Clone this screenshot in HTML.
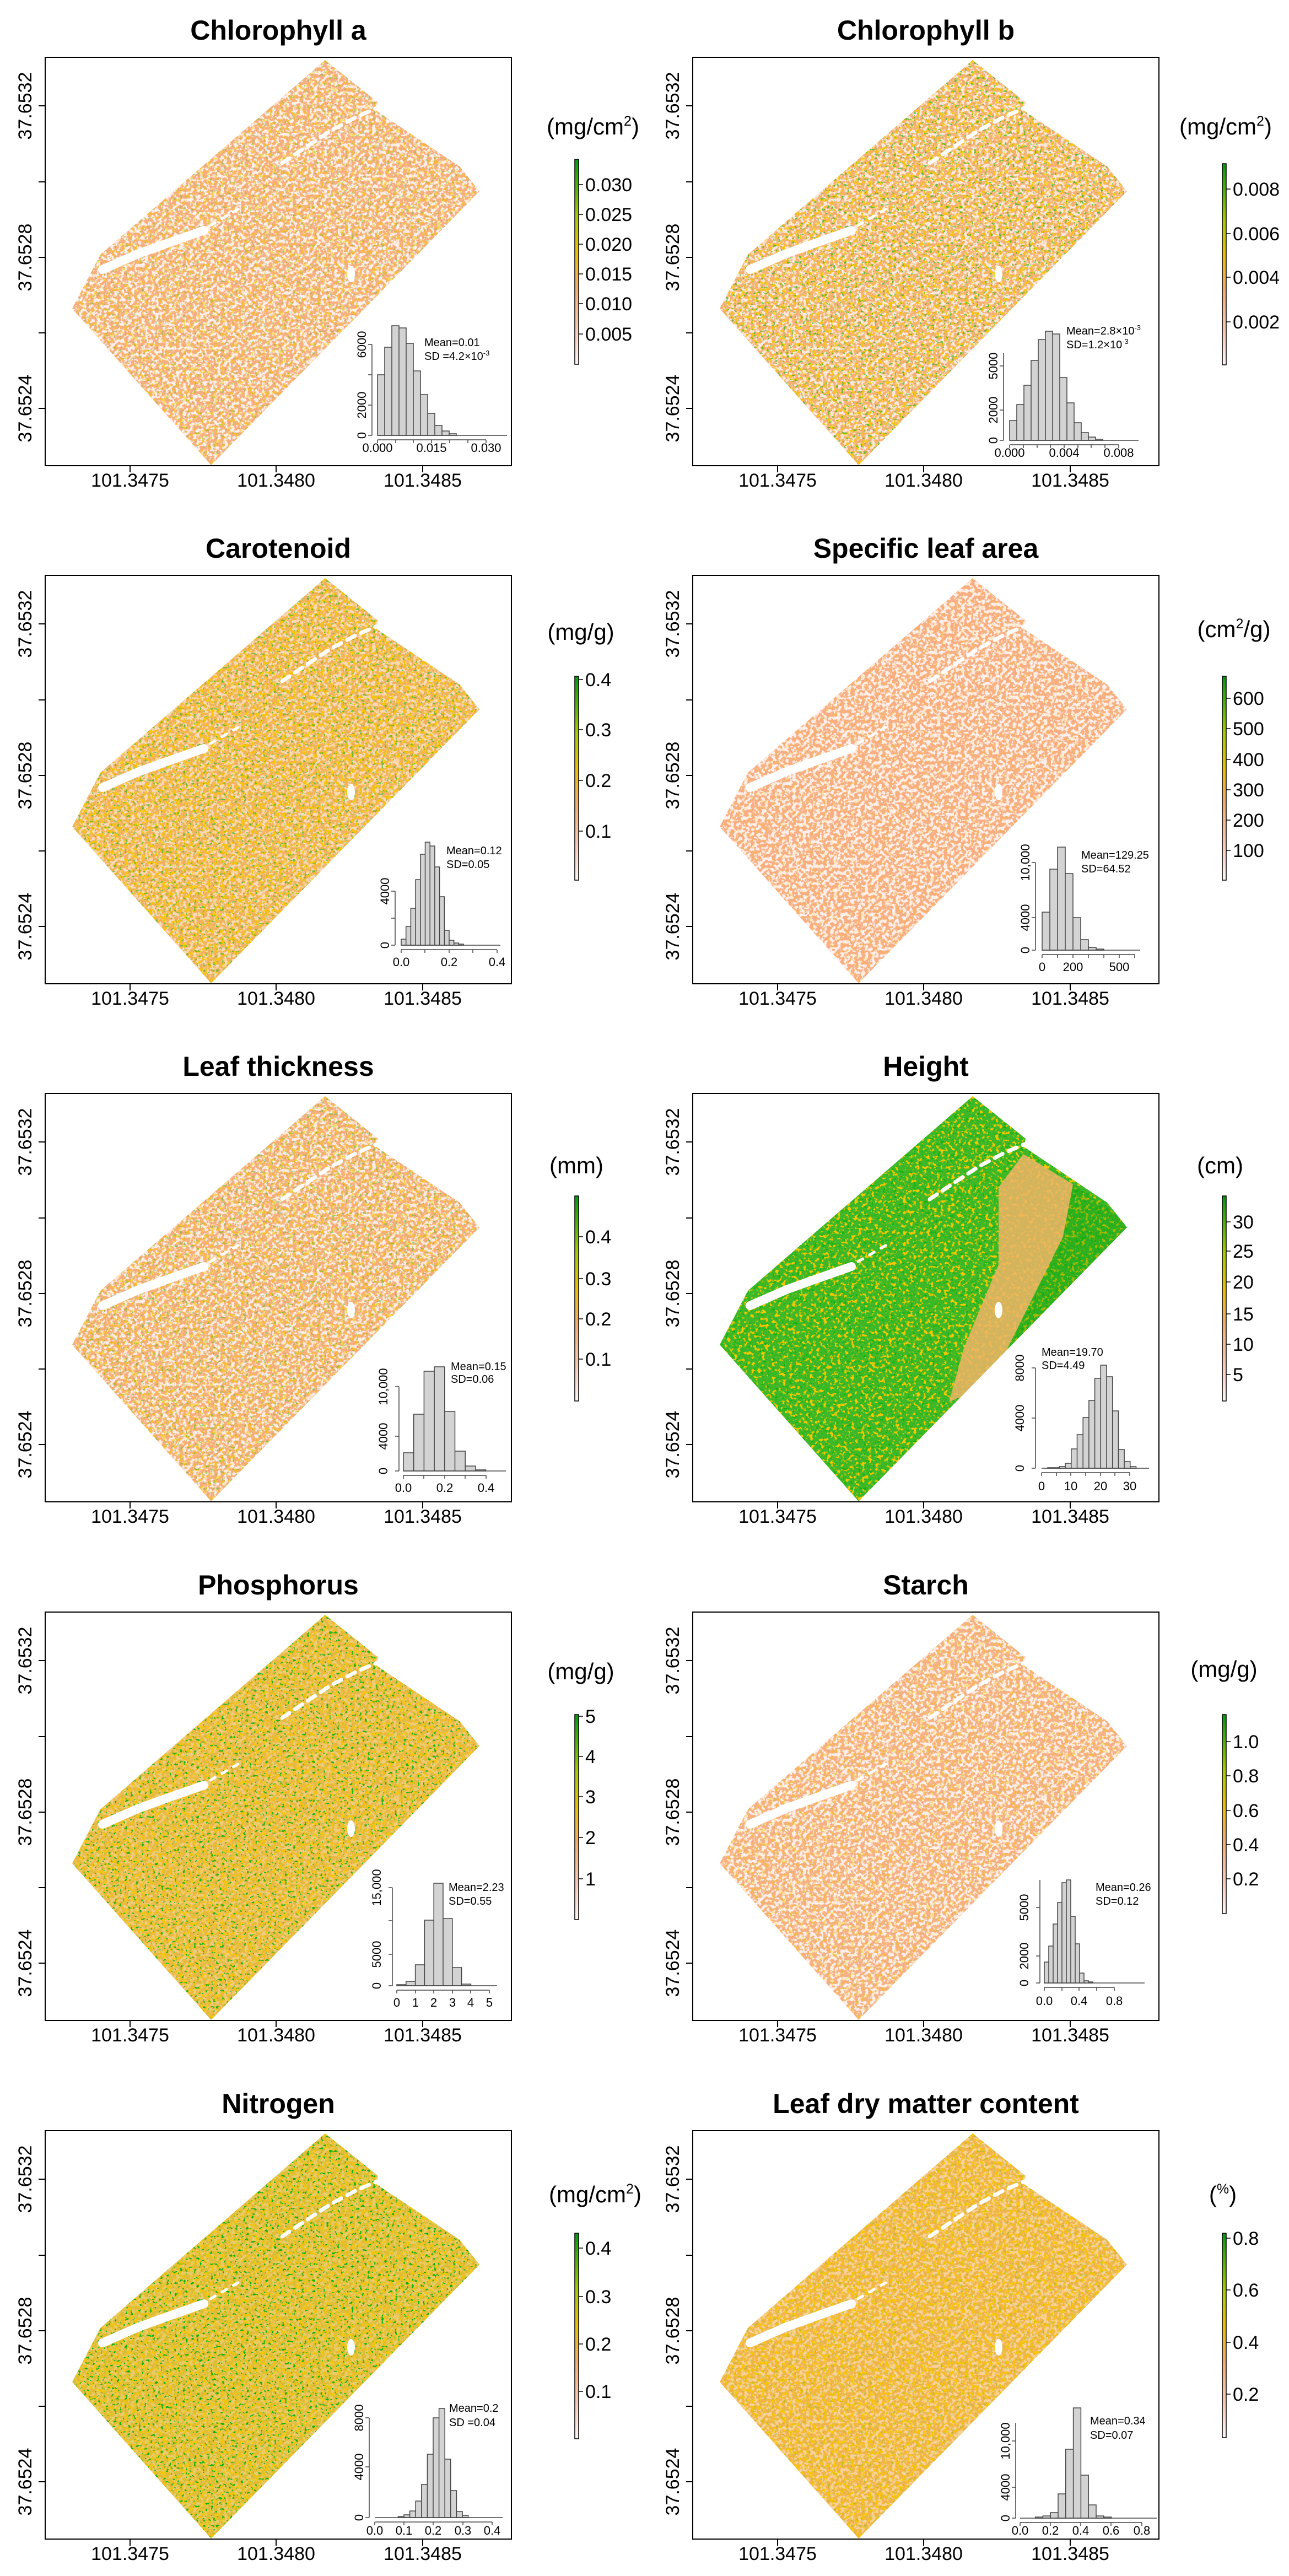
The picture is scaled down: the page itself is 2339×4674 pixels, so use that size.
<!DOCTYPE html>
<html><head><meta charset="utf-8"><style>
html,body{margin:0;padding:0;background:#fff}
svg{display:block}
text{font-family:"Liberation Sans",Arial,sans-serif;fill:#000}
.t{font-size:50px;font-weight:bold;text-anchor:middle}
.ax{font-size:34px;text-anchor:middle}
.cl{font-size:34px}
.u{font-size:42px;text-anchor:middle}
.hl{font-size:22px;text-anchor:middle}
.hm{font-size:20px}
.bars{fill:#d3d3d3;stroke:#444;stroke-width:1.5}
.hx{stroke:#444;stroke-width:1.5;fill:none}
</style></head><body>
<svg width="2339" height="4674" viewBox="0 0 2339 4674" xmlns="http://www.w3.org/2000/svg">
<defs>
<polygon id="shp" points="508,5 604,82 601,97 752,198 788,243 301,740 49,456 100,358"/>
<clipPath id="cp"><use href="#shp"/></clipPath>
<g id="ch" fill="#fff" stroke="#fff" stroke-linecap="round" stroke-linejoin="round">
<path d="M104,385 L170,356 L220,338 L288,314" fill="none" stroke-width="16"/>
<path d="M300,305 L360,270" fill="none" stroke-width="5" stroke-dasharray="10 14"/>
<path d="M430,192 L470,165 L520,132 L565,108 L602,92" fill="none" stroke-width="7" stroke-dasharray="16 12"/>
<ellipse cx="555" cy="393" rx="7" ry="15" stroke="none"/>
</g>
<filter id="fw" filterUnits="userSpaceOnUse" x="0" y="0" width="850" height="745" color-interpolation-filters="sRGB">
<feTurbulence type="fractalNoise" baseFrequency="0.16" numOctaves="2" seed="2"/>
<feColorMatrix type="matrix" values="0 0 0 0 1 0 0 0 0 0.94 0 0 0 0 0.93 9 0 0 0 -4.2"/>
</filter>
<filter id="fy" filterUnits="userSpaceOnUse" x="0" y="0" width="850" height="745" color-interpolation-filters="sRGB">
<feTurbulence type="fractalNoise" baseFrequency="0.16" numOctaves="2" seed="7"/>
<feColorMatrix type="matrix" values="0 0 0 0 0.97 0 0 0 0 0.78 0 0 0 0 0.0 9 0 0 0 -4.9"/>
</filter>
<filter id="fg" filterUnits="userSpaceOnUse" x="0" y="0" width="850" height="745" color-interpolation-filters="sRGB">
<feTurbulence type="fractalNoise" baseFrequency="0.2" numOctaves="2" seed="11"/>
<feColorMatrix type="matrix" values="0 0 0 0 0.05 0 0 0 0 0.7 0 0 0 0 0.05 12 0 0 0 -7.6"/>
</filter>
<linearGradient id="cb" x1="0" y1="1" x2="0" y2="0">
<stop offset="0" stop-color="#fdf6f6"/><stop offset="0.18" stop-color="#f8c8b6"/>
<stop offset="0.38" stop-color="#f4ae6a"/><stop offset="0.55" stop-color="#ecc000"/>
<stop offset="0.72" stop-color="#a8cc00"/><stop offset="1" stop-color="#009a10"/>
</linearGradient>
<g id="frame">
<rect x="0" y="0" width="846" height="741" fill="none" stroke="#000" stroke-width="2"/>
<path d="M0,88 h-12 M0,226 h-12 M0,363 h-12 M0,500 h-12 M0,637 h-12 M154,741 v12 M419,741 v12 M685,741 v12" stroke="#000" stroke-width="2"/>
<text class="ax" x="154" y="779">101.3475</text>
<text class="ax" x="419" y="779">101.3480</text>
<text class="ax" x="685" y="779">101.3485</text>
<text class="ax" transform="translate(-25,88) rotate(-90)">37.6532</text>
<text class="ax" transform="translate(-25,363) rotate(-90)">37.6528</text>
<text class="ax" transform="translate(-25,637) rotate(-90)">37.6524</text>
</g>
</defs>

<!-- Panel 1: Chlorophyll a -->
<g transform="translate(82,104)">
<g clip-path="url(#cp)"><rect width="850" height="745" fill="#f8ae80"/><rect width="850" height="745" filter="url(#fw)" opacity="1"/><rect width="850" height="745" filter="url(#fy)" opacity="0.55"/><rect width="850" height="745" filter="url(#fg)" opacity="0.25"/></g>
<use href="#ch"/><use href="#frame"/>
<text class="t" x="423" y="-32">Chlorophyll a</text>
<text class="u" x="994" y="140">(mg/cm<tspan font-size="25" dy="-16">2</tspan><tspan dy="16">)</tspan></text>
<rect x="961" y="185" width="7" height="372" fill="url(#cb)" stroke="#000" stroke-width="1.5"/>
<path d="M968,231h8M968,285h8M968,339h8M968,393h8M968,447h8M968,502h8" stroke="#000" stroke-width="1.5"/>
<text class="cl" x="980" y="243">0.030</text><text class="cl" x="980" y="297">0.025</text><text class="cl" x="980" y="351">0.020</text><text class="cl" x="980" y="405">0.015</text><text class="cl" x="980" y="459">0.010</text><text class="cl" x="980" y="514">0.005</text>
<path class="bars" d="M603,686v-110h13v110zM616,686v-160h13v160zM629,686v-199h13v199zM642,686v-195h13v195zM655,686v-167h13v167zM668,686v-117h13v117zM681,686v-74h13v74zM694,686v-40h13v40zM707,686v-18h13v18zM720,686v-8h13v8zM733,686v-3h13v3z"/>
<path class="hx" d="M603,686H838M593,686V521M593,686h-7M593,631h-7M593,576h-7M593,521h-7M603,694H800M603,694v6M636,694v6M668,694v6M701,694v6M734,694v6M767,694v6M800,694v6"/>
<text class="hl" transform="translate(582,686) rotate(-90)">0</text><text class="hl" transform="translate(582,631) rotate(-90)">2000</text><text class="hl" transform="translate(582,521) rotate(-90)">6000</text>
<text class="hl" x="603" y="716">0.000</text><text class="hl" x="701" y="716">0.015</text><text class="hl" x="800" y="716">0.030</text>
<text class="hm" x="688" y="524">Mean=0.01</text><text class="hm" x="688" y="549">SD =4.2×10<tspan font-size="13" dy="-8">-3</tspan></text>
</g>

<!-- Panel 2: Chlorophyll b -->
<g transform="translate(1257,104)">
<g clip-path="url(#cp)"><rect width="850" height="745" fill="#f6b074"/><rect width="850" height="745" filter="url(#fw)" opacity="0.9"/><rect width="850" height="745" filter="url(#fy)" opacity="0.85"/><rect width="850" height="745" filter="url(#fg)" opacity="0.6"/></g>
<use href="#ch"/><use href="#frame"/>
<text class="t" x="423" y="-32">Chlorophyll b</text>
<text class="u" x="967" y="140">(mg/cm<tspan font-size="25" dy="-16">2</tspan><tspan dy="16">)</tspan></text>
<rect x="961" y="193" width="7" height="365" fill="url(#cb)" stroke="#000" stroke-width="1.5"/>
<path d="M968,239h8M968,320h8M968,399h8M968,480h8" stroke="#000" stroke-width="1.5"/>
<text class="cl" x="980" y="251">0.008</text><text class="cl" x="980" y="332">0.006</text><text class="cl" x="980" y="411">0.004</text><text class="cl" x="980" y="492">0.002</text>
<path class="bars" d="M575,695v-36h13v36zM588,695v-65h13v65zM601,695v-100h13v100zM614,695v-145h13v145zM627,695v-183h13v183zM640,695v-198h13v198zM653,695v-193h13v193zM666,695v-114h13v114zM679,695v-68h13v68zM692,695v-32h13v32zM705,695v-14h13v14zM718,695v-6h13v6zM731,695v-2h13v2z"/>
<path class="hx" d="M575,695H809M564,695V536M564,695h-7M564,640h-7M564,560h-7M575,703H773M575,703v6M600,703v6M625,703v6M649,703v6M674,703v6M699,703v6M723,703v6M748,703v6M773,703v6"/>
<text class="hl" transform="translate(553,695) rotate(-90)">0</text><text class="hl" transform="translate(553,640) rotate(-90)">2000</text><text class="hl" transform="translate(553,560) rotate(-90)">5000</text>
<text class="hl" x="575" y="725">0.000</text><text class="hl" x="674" y="725">0.004</text><text class="hl" x="773" y="725">0.008</text>
<text class="hm" x="678" y="503">Mean=2.8×10<tspan font-size="13" dy="-8">-3</tspan></text><text class="hm" x="678" y="528">SD=1.2×10<tspan font-size="13" dy="-8">-3</tspan></text>
</g>

<!-- Panel 3: Carotenoid -->
<g transform="translate(82,1044)">
<g clip-path="url(#cp)"><rect width="850" height="745" fill="#f2b25c"/><rect width="850" height="745" filter="url(#fw)" opacity="0.65"/><rect width="850" height="745" filter="url(#fy)" opacity="0.95"/><rect width="850" height="745" filter="url(#fg)" opacity="0.55"/></g>
<use href="#ch"/><use href="#frame"/>
<text class="t" x="423" y="-32">Carotenoid</text>
<text class="u" x="972" y="117">(mg/g)</text>
<rect x="961" y="183" width="7" height="370" fill="url(#cb)" stroke="#000" stroke-width="1.5"/>
<path d="M968,189h8M968,280h8M968,372h8M968,464h8" stroke="#000" stroke-width="1.5"/>
<text class="cl" x="980" y="201">0.4</text><text class="cl" x="980" y="292">0.3</text><text class="cl" x="980" y="384">0.2</text><text class="cl" x="980" y="476">0.1</text>
<path class="bars" d="M646,671v-11h8.7v11zM654.7,671v-34h8.7v34zM663.4,671v-67h8.7v67zM672.1,671v-119h8.7v119zM680.8,671v-165h8.7v165zM689.5,671v-187h8.7v187zM698.2,671v-180h8.7v180zM706.9,671v-142h8.7v142zM715.6,671v-88h8.7v88zM724.3,671v-27h8.7v27zM733,671v-9h8.7v9zM741.7,671v-4h8.7v4zM750.4,671v-2h8.7v2z"/>
<path class="hx" d="M646,671H826M635,671V573M635,671h-7M635,622h-7M635,573h-7M646,679H820M646,679v6M689,679v6M733,679v6M776,679v6M820,679v6"/>
<text class="hl" transform="translate(624,671) rotate(-90)">0</text><text class="hl" transform="translate(624,573) rotate(-90)">4000</text>
<text class="hl" x="646" y="709">0.0</text><text class="hl" x="733" y="709">0.2</text><text class="hl" x="820" y="709">0.4</text>
<text class="hm" x="728" y="506">Mean=0.12</text><text class="hm" x="728" y="531">SD=0.05</text>
</g>

<!-- Panel 4: Specific leaf area -->
<g transform="translate(1257,1044)">
<g clip-path="url(#cp)"><rect width="850" height="745" fill="#f8ae82"/><rect width="850" height="745" filter="url(#fw)" opacity="1"/><rect width="850" height="745" filter="url(#fy)" opacity="0.2"/></g>
<use href="#ch"/><use href="#frame"/>
<text class="t" x="423" y="-32">Specific leaf area</text>
<text class="u" x="982" y="112">(cm<tspan font-size="25" dy="-16">2</tspan><tspan dy="16">/g)</tspan></text>
<rect x="961" y="183" width="7" height="370" fill="url(#cb)" stroke="#000" stroke-width="1.5"/>
<path d="M968,223h8M968,278h8M968,334h8M968,389h8M968,444h8M968,499h8" stroke="#000" stroke-width="1.5"/>
<text class="cl" x="980" y="235">600</text><text class="cl" x="980" y="290">500</text><text class="cl" x="980" y="346">400</text><text class="cl" x="980" y="401">300</text><text class="cl" x="980" y="456">200</text><text class="cl" x="980" y="511">100</text>
<path class="bars" d="M634,680v-69h14v69zM648,680v-147h14v147zM662,680v-187h14v187zM676,680v-139h14v139zM690,680v-59h14v59zM704,680v-19h14v19zM718,680v-5h14v5zM732,680v-2h14v2z"/>
<path class="hx" d="M634,680H812M622,680V521M622,680h-7M622,621h-7M622,521h-7M634,688H802M634,688v6M662,688v6M690,688v6M718,688v6M746,688v6M774,688v6M802,688v6"/>
<text class="hl" transform="translate(611,680) rotate(-90)">0</text><text class="hl" transform="translate(611,621) rotate(-90)">4000</text><text class="hl" transform="translate(611,521) rotate(-90)">10,000</text>
<text class="hl" x="634" y="718">0</text><text class="hl" x="690" y="718">200</text><text class="hl" x="774" y="718">500</text>
<text class="hm" x="705" y="514">Mean=129.25</text><text class="hm" x="705" y="539">SD=64.52</text>
</g>

<!-- Panel 5: Leaf thickness -->
<g transform="translate(82,1984)">
<g clip-path="url(#cp)"><rect width="850" height="745" fill="#f7ae7a"/><rect width="850" height="745" filter="url(#fw)" opacity="0.95"/><rect width="850" height="745" filter="url(#fy)" opacity="0.6"/><rect width="850" height="745" filter="url(#fg)" opacity="0.35"/></g>
<use href="#ch"/><use href="#frame"/>
<text class="t" x="423" y="-32">Leaf thickness</text>
<text class="u" x="964" y="145">(mm)</text>
<rect x="961" y="186" width="7" height="372" fill="url(#cb)" stroke="#000" stroke-width="1.5"/>
<path d="M968,260h8M968,336h8M968,409h8M968,482h8" stroke="#000" stroke-width="1.5"/>
<text class="cl" x="980" y="272">0.4</text><text class="cl" x="980" y="348">0.3</text><text class="cl" x="980" y="421">0.2</text><text class="cl" x="980" y="494">0.1</text>
<path class="bars" d="M650,685v-33h18.7v33zM668.7,685v-103h18.7v103zM687.4,685v-181h18.7v181zM706.1,685v-189h18.7v189zM724.8,685v-108h18.7v108zM743.5,685v-36h18.7v36zM762.2,685v-9h18.7v9zM780.9,685v-2h18.7v2z"/>
<path class="hx" d="M650,685H836M642,685V532M642,685h-7M642,622h-7M642,532h-7M650,693H800M650,693v6M687,693v6M725,693v6M762,693v6M800,693v6"/>
<text class="hl" transform="translate(621,685) rotate(-90)">0</text><text class="hl" transform="translate(621,622) rotate(-90)">4000</text><text class="hl" transform="translate(621,532) rotate(-90)">10,000</text>
<text class="hl" x="650" y="723">0.0</text><text class="hl" x="725" y="723">0.2</text><text class="hl" x="800" y="723">0.4</text>
<text class="hm" x="736" y="502">Mean=0.15</text><text class="hm" x="736" y="525">SD=0.06</text>
</g>

<!-- Panel 6: Height -->
<g transform="translate(1257,1984)">
<g clip-path="url(#cp)"><rect width="850" height="745" fill="#3cb828"/><rect width="850" height="745" filter="url(#fy)" opacity="1"/><rect width="850" height="745" filter="url(#fg)" opacity="0.9"/>
<polygon points="690,165 800,240 560,540 540,530 672,260" fill="#10a010" opacity="0.35"/>
<polygon points="600,110 690,165 672,260 540,525 465,560 492,462 555,310 555,170" fill="#eeb466" opacity="0.85"/>
</g>
<use href="#ch"/><use href="#frame"/>
<text class="t" x="423" y="-32">Height</text>
<text class="u" x="957" y="145">(cm)</text>
<rect x="961" y="186" width="7" height="372" fill="url(#cb)" stroke="#000" stroke-width="1.5"/>
<path d="M968,233h8M968,286h8M968,342h8M968,400h8M968,455h8M968,510h8" stroke="#000" stroke-width="1.5"/>
<text class="cl" x="980" y="245">30</text><text class="cl" x="980" y="298">25</text><text class="cl" x="980" y="354">20</text><text class="cl" x="980" y="412">15</text><text class="cl" x="980" y="467">10</text><text class="cl" x="980" y="522">5</text>
<path class="bars" d="M644,680v-1h10.7v1zM654.7,680v-1h10.7v1zM665.4,680v-3h10.7v3zM676.1,680v-9h10.7v9zM686.8,680v-35h10.7v35zM697.5,680v-61h10.7v61zM708.2,680v-92h10.7v92zM718.9,680v-123h10.7v123zM729.6,680v-163h10.7v163zM740.3,680v-187h10.7v187zM751,680v-166h10.7v166zM761.7,680v-104h10.7v104zM772.4,680v-34h10.7v34zM783.1,680v-12h10.7v12zM793.8,680v-3h10.7v3z"/>
<path class="hx" d="M633,680H828M622,680V498M622,680h-7M622,589h-7M622,498h-7M633,688H793M633,688v6M660,688v6M686,688v6M713,688v6M740,688v6M766,688v6M793,688v6"/>
<text class="hl" transform="translate(601,680) rotate(-90)">0</text><text class="hl" transform="translate(601,589) rotate(-90)">4000</text><text class="hl" transform="translate(601,498) rotate(-90)">8000</text>
<text class="hl" x="633" y="720">0</text><text class="hl" x="686" y="720">10</text><text class="hl" x="740" y="720">20</text><text class="hl" x="793" y="720">30</text>
<text class="hm" x="633" y="476">Mean=19.70</text><text class="hm" x="633" y="500">SD=4.49</text>
</g>

<!-- Panel 7: Phosphorus -->
<g transform="translate(82,2925)">
<g clip-path="url(#cp)"><rect width="850" height="745" fill="#e8b840"/><rect width="850" height="745" filter="url(#fw)" opacity="0.35"/><rect width="850" height="745" filter="url(#fy)" opacity="0.85"/><rect width="850" height="745" filter="url(#fg)" opacity="0.9"/></g>
<use href="#ch"/><use href="#frame"/>
<text class="t" x="423" y="-32">Phosphorus</text>
<text class="u" x="972" y="122">(mg/g)</text>
<rect x="961" y="186" width="7" height="372" fill="url(#cb)" stroke="#000" stroke-width="1.5"/>
<path d="M968,189h8M968,262h8M968,335h8M968,409h8M968,484h8" stroke="#000" stroke-width="1.5"/>
<text class="cl" x="980" y="201">5</text><text class="cl" x="980" y="274">4</text><text class="cl" x="980" y="347">3</text><text class="cl" x="980" y="421">2</text><text class="cl" x="980" y="496">1</text>
<path class="bars" d="M638,678v-2h16.8v2zM654.8,678v-8h16.8v8zM671.6,678v-38h16.8v38zM688.4,678v-119h16.8v119zM705.2,678v-186h16.8v186zM722,678v-122h16.8v122zM738.8,678v-33h16.8v33zM755.6,678v-3h16.8v3z"/>
<path class="hx" d="M638,678H820M630,678V500M630,678h-7M630,621h-7M630,560h-7M630,500h-7M638,686H806M638,686v6M672,686v6M705,686v6M739,686v6M772,686v6M806,686v6"/>
<text class="hl" transform="translate(609,678) rotate(-90)">0</text><text class="hl" transform="translate(609,621) rotate(-90)">5000</text><text class="hl" transform="translate(609,500) rotate(-90)">15,000</text>
<text class="hl" x="638" y="716">0</text><text class="hl" x="672" y="716">1</text><text class="hl" x="705" y="716">2</text><text class="hl" x="739" y="716">3</text><text class="hl" x="772" y="716">4</text><text class="hl" x="806" y="716">5</text>
<text class="hm" x="732" y="506">Mean=2.23</text><text class="hm" x="732" y="531">SD=0.55</text>
</g>

<!-- Panel 8: Starch -->
<g transform="translate(1257,2925)">
<g clip-path="url(#cp)"><rect width="850" height="745" fill="#f7b084"/><rect width="850" height="745" filter="url(#fw)" opacity="1"/><rect width="850" height="745" filter="url(#fy)" opacity="0.4"/><rect width="850" height="745" filter="url(#fg)" opacity="0.08"/></g>
<use href="#ch"/><use href="#frame"/>
<text class="t" x="423" y="-32">Starch</text>
<text class="u" x="964" y="118">(mg/g)</text>
<rect x="961" y="186" width="7" height="361" fill="url(#cb)" stroke="#000" stroke-width="1.5"/>
<path d="M968,235h8M968,297h8M968,360h8M968,422h8M968,484h8" stroke="#000" stroke-width="1.5"/>
<text class="cl" x="980" y="247">1.0</text><text class="cl" x="980" y="309">0.8</text><text class="cl" x="980" y="372">0.6</text><text class="cl" x="980" y="434">0.4</text><text class="cl" x="980" y="496">0.2</text>
<path class="bars" d="M638,673v-38h8v38zM646,673v-67h8v67zM654,673v-107h8v107zM662,673v-146h8v146zM670,673v-182h8v182zM678,673v-187h8v187zM686,673v-121h8v121zM694,673v-71h8v71zM702,673v-18h8v18zM710,673v-4h8v4zM718,673v-2h8v2z"/>
<path class="hx" d="M638,673H820M630,673V486M630,673h-7M630,624h-7M630,536h-7M638,681H765M638,681v6M670,681v6M701,681v6M733,681v6M765,681v6"/>
<text class="hl" transform="translate(609,673) rotate(-90)">0</text><text class="hl" transform="translate(609,624) rotate(-90)">2000</text><text class="hl" transform="translate(609,536) rotate(-90)">5000</text>
<text class="hl" x="638" y="713">0.0</text><text class="hl" x="701" y="713">0.4</text><text class="hl" x="765" y="713">0.8</text>
<text class="hm" x="731" y="506">Mean=0.26</text><text class="hm" x="731" y="531">SD=0.12</text>
</g>

<!-- Panel 9: Nitrogen -->
<g transform="translate(82,3866)">
<g clip-path="url(#cp)"><rect width="850" height="745" fill="#e0bc34"/><rect width="850" height="745" filter="url(#fw)" opacity="0.3"/><rect width="850" height="745" filter="url(#fy)" opacity="0.85"/><rect width="850" height="745" filter="url(#fg)" opacity="1"/></g>
<use href="#ch"/><use href="#frame"/>
<text class="t" x="423" y="-32">Nitrogen</text>
<text class="u" x="998" y="130">(mg/cm<tspan font-size="25" dy="-16">2</tspan><tspan dy="16">)</tspan></text>
<rect x="961" y="186" width="7" height="373" fill="url(#cb)" stroke="#000" stroke-width="1.5"/>
<path d="M968,213h8M968,301h8M968,387h8M968,473h8" stroke="#000" stroke-width="1.5"/>
<text class="cl" x="980" y="225">0.4</text><text class="cl" x="980" y="313">0.3</text><text class="cl" x="980" y="399">0.2</text><text class="cl" x="980" y="485">0.1</text>
<path class="bars" d="M640.4,702v-2h10.6v2zM651,702v-5h10.6v5zM661.6,702v-12h10.6v12zM672.2,702v-30h10.6v30zM682.8,702v-60h10.6v60zM693.4,702v-115h10.6v115zM704,702v-181h10.6v181zM714.6,702v-198h10.6v198zM725.2,702v-106h10.6v106zM735.8,702v-49h10.6v49zM746.4,702v-11h10.6v11zM757,702v-4h10.6v4z"/>
<path class="hx" d="M598,702H830M588,702V521M588,702h-7M588,610h-7M588,521h-7M598,710H811M598,710v6M651,710v6M704,710v6M758,710v6M811,710v6"/>
<text class="hl" transform="translate(577,702) rotate(-90)">0</text><text class="hl" transform="translate(577,610) rotate(-90)">4000</text><text class="hl" transform="translate(577,521) rotate(-90)">8000</text>
<text class="hl" x="598" y="733">0.0</text><text class="hl" x="651" y="733">0.1</text><text class="hl" x="704" y="733">0.2</text><text class="hl" x="758" y="733">0.3</text><text class="hl" x="811" y="733">0.4</text>
<text class="hm" x="733" y="510">Mean=0.2</text><text class="hm" x="733" y="536">SD =0.04</text>
</g>

<!-- Panel 10: Leaf dry matter content -->
<g transform="translate(1257,3866)">
<g clip-path="url(#cp)"><rect width="850" height="745" fill="#f0b448"/><rect width="850" height="745" filter="url(#fw)" opacity="0.5"/><rect width="850" height="745" filter="url(#fy)" opacity="0.95"/><rect width="850" height="745" filter="url(#fg)" opacity="0.2"/></g>
<use href="#ch"/><use href="#frame"/>
<text class="t" x="423" y="-32">Leaf dry matter content</text>
<text class="u" x="962" y="130">(<tspan font-size="25" dy="-16">%</tspan><tspan dy="16">)</tspan></text>
<rect x="961" y="186" width="7" height="371" fill="url(#cb)" stroke="#000" stroke-width="1.5"/>
<path d="M968,195h8M968,289h8M968,384h8M968,478h8" stroke="#000" stroke-width="1.5"/>
<text class="cl" x="980" y="207">0.8</text><text class="cl" x="980" y="301">0.6</text><text class="cl" x="980" y="396">0.4</text><text class="cl" x="980" y="490">0.2</text>
<path class="bars" d="M621.6,703v-2h13.8v2zM635.4,703v-4h13.8v4zM649.2,703v-10h13.8v10zM663,703v-44h13.8v44zM676.8,703v-125h13.8v125zM690.6,703v-200h13.8v200zM704.4,703v-78h13.8v78zM718.2,703v-24h13.8v24zM732,703v-4h13.8v4zM745.8,703v-2h13.8v2z"/>
<path class="hx" d="M594,703H842M586,703V530M586,703h-7M586,647h-7M586,563h-7M594,711H815M594,711v6M649,711v6M704,711v6M759,711v6M815,711v6"/>
<text class="hl" transform="translate(575,703) rotate(-90)">0</text><text class="hl" transform="translate(575,647) rotate(-90)">4000</text><text class="hl" transform="translate(575,563) rotate(-90)">10,000</text>
<text class="hl" x="594" y="733">0.0</text><text class="hl" x="649" y="733">0.2</text><text class="hl" x="704" y="733">0.4</text><text class="hl" x="759" y="733">0.6</text><text class="hl" x="815" y="733">0.8</text>
<text class="hm" x="721" y="533">Mean=0.34</text><text class="hm" x="721" y="559">SD=0.07</text>
</g>
</svg>
</body></html>
